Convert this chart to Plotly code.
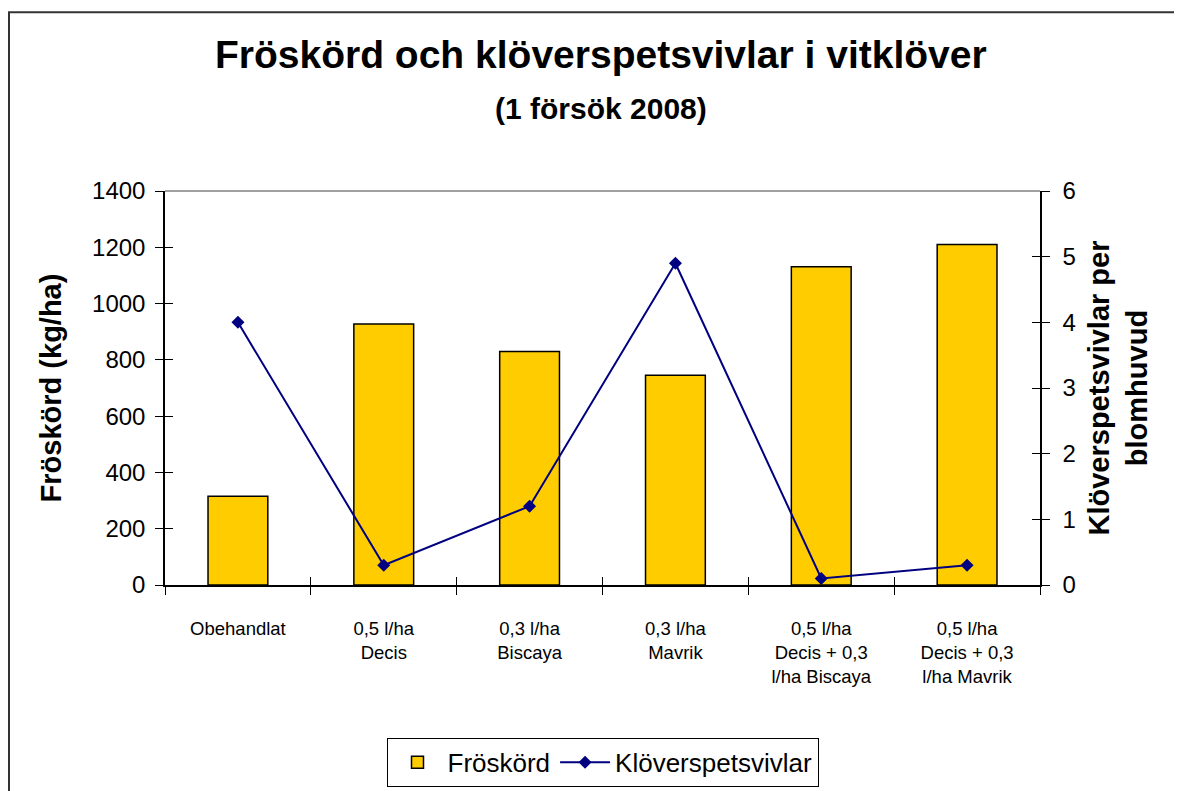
# coding: utf-8
# Fröskörd och klöverspetsvivlar i vitklöver - bar + line on two y axes

import plotly.graph_objs as go

OUTPUT_PATH = 'out.html'
FIGURE_TITLE = 'Fröskörd och klöverspetsvivlar i vitklöver'
FIGURE_SUBTITLE = '(1 försök 2008)'

# Data
categories = ['Obehandlat',
              '0,5 l/ha<br>Decis',
              '0,3 l/ha<br>Biscaya',
              '0,3 l/ha<br>Mavrik',
              '0,5 l/ha<br>Decis + 0,3<br>l/ha Biscaya',
              '0,5 l/ha<br>Decis + 0,3<br>l/ha Mavrik']
froskord = [315, 927, 830, 745, 1131, 1210]     # kg/ha, left axis
vivlar = [4.0, 0.3, 1.2, 4.9, 0.1, 0.3]         # per blomhuvud, right axis

FONT = 'Arial, Liberation Sans, sans-serif'

# plot area (figure px); the page body adds an 8px offset
M_L, M_R, M_T, M_B = 157, 150, 183, 211
PLOT_W = 1182 - M_L - M_R
PLOT_H = 791 - M_T - M_B


def px_x(fx):
    return (fx - M_L) / PLOT_W


def px_y(fy):
    return (791 - M_B - fy) / PLOT_H


fig = go.Figure()

fig.add_trace(go.Bar(
    x=categories, y=froskord, name='Fröskörd',
    marker=dict(color='#FFCC00', line=dict(color='black', width=1.5)),
    width=0.41, yaxis='y'))

fig.add_trace(go.Scatter(
    x=categories, y=vivlar, name='Klöverspetsvivlar', mode='lines+markers',
    line=dict(color='#000080', width=2),
    marker=dict(symbol='diamond', size=10, color='#000080'),
    yaxis='y2'))

# invisible helper traces so the overlay axes (inside half of crossing ticks) get drawn
fig.add_trace(go.Scatter(
    x=categories, y=[None] * len(categories), xaxis='x2', yaxis='y3',
    showlegend=False, hoverinfo='skip'))
fig.add_trace(go.Scatter(
    x=categories, y=[None] * len(categories), xaxis='x2', yaxis='y4',
    showlegend=False, hoverinfo='skip'))

tick_common = dict(ticklen=8, tickwidth=1, tickcolor='black', showgrid=False, zeroline=False)

fig.update_layout(
    width=1182, height=791,
    paper_bgcolor='white', plot_bgcolor='white',
    margin=dict(l=M_L, r=M_R, t=M_T, b=M_B),
    font=dict(family=FONT, color='black', size=24),
    bargap=0.5,
    xaxis=dict(
        type='category', tickson='boundaries', ticks='outside',
        showline=True, linecolor='black', linewidth=1.5,
        tickfont=dict(size=18.5), ticklabelstandoff=26,
        range=[-0.5, 5.5], **tick_common),
    xaxis2=dict(
        type='category', overlaying='x', anchor='y3', tickson='boundaries',
        ticks='inside', showticklabels=False, showline=False,
        range=[-0.5, 5.5], **tick_common),
    yaxis=dict(
        title=dict(text='<b>Fröskörd (kg/ha)</b>', font=dict(size=29), standoff=22),
        range=[0, 1400], dtick=200, ticks='outside',
        showline=True, linecolor='black', linewidth=1.5,
        ticklabelstandoff=5, **tick_common),
    yaxis2=dict(
        title=dict(text='<b>Klöverspetsvivlar per<br>blomhuvud</b>', font=dict(size=29),
                   standoff=14),
        range=[0, 6], dtick=1, ticks='outside', side='right', overlaying='y',
        showline=True, linecolor='black', linewidth=1.5,
        ticklabelstandoff=8, **tick_common),
    yaxis3=dict(
        range=[0, 1400], dtick=200, ticks='inside', overlaying='y', side='left',
        showticklabels=False, showline=False, **tick_common),
    yaxis4=dict(
        range=[0, 6], dtick=1, ticks='inside', overlaying='y', side='right',
        showticklabels=False, showline=False, **tick_common),
    legend=dict(
        orientation='h', x=0.5, xanchor='center', y=px_y(734), yanchor='top',
        bordercolor='black', borderwidth=1, font=dict(size=26, family=FONT),
        itemwidth=50, tracegroupgap=0),
    showlegend=True,
    annotations=[
        dict(text='<b>' + FIGURE_TITLE + '</b>', xref='paper', yref='paper',
             x=px_x(593), y=px_y(45), xanchor='center', yanchor='middle',
             showarrow=False, font=dict(size=39)),
        dict(text='<b>' + FIGURE_SUBTITLE + '</b>', xref='paper', yref='paper',
             x=px_x(593), y=px_y(100), xanchor='center', yanchor='middle',
             showarrow=False, font=dict(size=30)),
    ],
    shapes=[
        # gray top edge of the plot area
        dict(type='line', xref='paper', yref='paper', x0=0, x1=1, y0=1, y1=1,
             line=dict(color='#808080', width=1.5)),
        # outer chart frame (runs off the right and bottom of the picture)
        dict(type='rect', xref='paper', yref='paper',
             x0=px_x(1), x1=1.3, y0=-0.7, y1=px_y(3),
             line=dict(color='#333333', width=2), fillcolor='rgba(0,0,0,0)'),
    ],
)

fig.write_html(OUTPUT_PATH)
